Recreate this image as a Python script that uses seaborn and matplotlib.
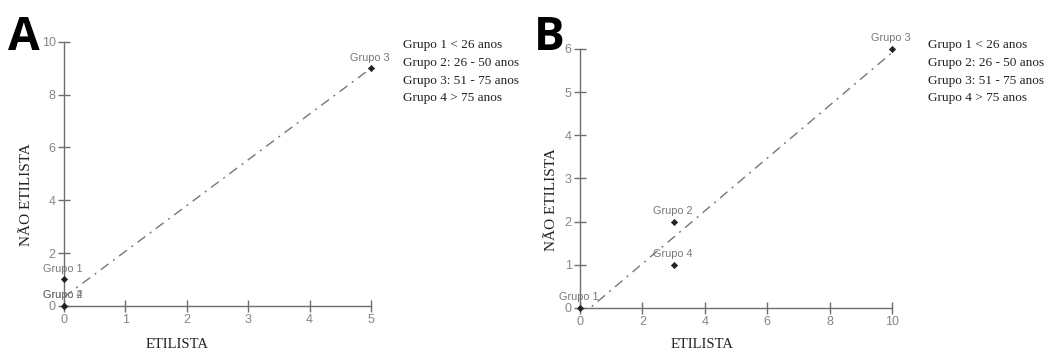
import matplotlib
matplotlib.use("Agg")
import matplotlib.pyplot as plt
import seaborn as sns
import pandas as pd

# Panel A data
grupos_a = ["Grupo 1", "Grupo 2", "Grupo 3", "Grupo 4"]
etilista_a = [0, 0, 5, 0]
nao_etilista_a = [1, 0, 9, 0]

# Panel B data
grupos_b = ["Grupo 1", "Grupo 2", "Grupo 3", "Grupo 4"]
etilista_b = [0, 3, 10, 3]
nao_etilista_b = [0, 2, 6, 1]

xticks_a = [0, 1, 2, 3, 4, 5]
yticks_a = [0, 2, 4, 6, 8, 10]
xticks_b = [0, 2, 4, 6, 8, 10]
yticks_b = [0, 1, 2, 3, 4, 5, 6]

legend_lines = ["Grupo 1 < 26 anos", "Grupo 2: 26 - 50 anos",
                "Grupo 3: 51 - 75 anos", "Grupo 4 > 75 anos"]

sns.set_style("white")
plt.rcParams["font.family"] = ["Liberation Sans", "DejaVu Sans"]

fig = plt.figure(figsize=(10.44, 3.52), dpi=100)

axA = fig.add_axes([0.0613, 0.131, 0.294, 0.75])
axB = fig.add_axes([0.5556, 0.125, 0.2989, 0.736])

GRAY = "#6e6e6e"
TICKC = "#858585"
SERIF = ["Liberation Serif", "DejaVu Serif"]


def draw(ax, grupos, xs, ys, xticks, yticks, xlab_pos, ylab_pos):
    df = pd.DataFrame({"grupo": grupos, "x": xs, "y": ys})
    sns.regplot(data=df, x="x", y="y", ax=ax, ci=None, scatter=False,
                line_kws=dict(color="#777777", lw=1.0, linestyle=(0, (7, 4, 1.5, 4))),
                truncate=True)
    sns.scatterplot(data=df, x="x", y="y", ax=ax, color="#222222", marker="D",
                    s=10, edgecolor="#222222", linewidth=0.5, clip_on=False, zorder=5)
    for g, x, y in zip(grupos, xs, ys):
        ax.annotate(g, (x, y), xytext=(-1, 4), textcoords="offset points",
                    ha="center", va="bottom", fontsize=7.8, color="#777777",
                    family=["Liberation Sans", "DejaVu Sans"], annotation_clip=False)
    ax.set_xlim(xticks[0], xticks[-1])
    ax.set_ylim(yticks[0], yticks[-1])
    ax.set_xticks(xticks)
    ax.set_yticks(yticks)
    for s in ["top", "right"]:
        ax.spines[s].set_visible(False)
    for s in ["left", "bottom"]:
        ax.spines[s].set_color(GRAY)
        ax.spines[s].set_linewidth(1.0)
    ax.tick_params(axis="both", direction="inout", length=8, width=1.0,
                   color=GRAY, labelcolor=TICKC, labelsize=9, pad=2)
    ax.tick_params(axis="x", bottom=True)
    ax.tick_params(axis="y", left=True)
    ax.set_xlabel("ETILISTA", family=SERIF, fontsize=10.5, color="#222222")
    ax.set_ylabel("NÃO ETILISTA", family=SERIF, fontsize=11, color="#222222")
    ax.xaxis.set_label_coords(*xlab_pos)
    ax.yaxis.set_label_coords(*ylab_pos)


draw(axA, grupos_a, etilista_a, nao_etilista_a, xticks_a, yticks_a,
     (0.368, -0.121), (-0.101, 0.42))
draw(axB, grupos_b, etilista_b, nao_etilista_b, xticks_b, yticks_b,
     (0.391, -0.116), (-0.0705, 0.417))

fig.text(8 / 1044, 1 - 50 / 352, "A", fontsize=33, fontweight="bold",
         family=["Open Sans", "DejaVu Sans"], color="black")
fig.text(534 / 1044, 1 - 50 / 352, "B", fontsize=33, fontweight="bold",
         family=["Open Sans", "DejaVu Sans"], color="black")

for xpix in (403, 928):
    for i, line in enumerate(legend_lines):
        fig.text(xpix / 1044, 1 - (45 + i * 17.8) / 352, line, family=SERIF,
                 fontsize=9.5, color="#222222", va="center", ha="left")

fig.savefig("out.png", dpi=100)
